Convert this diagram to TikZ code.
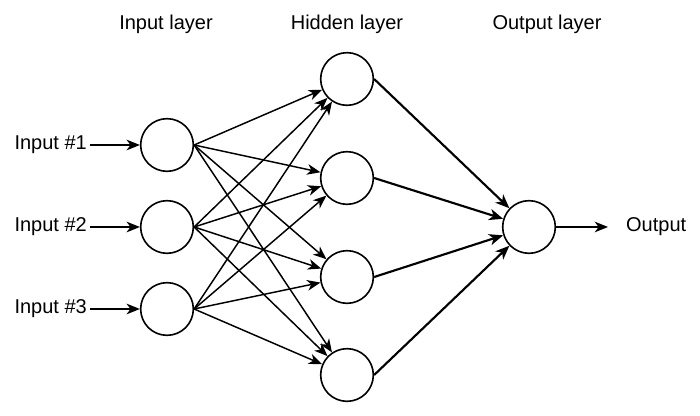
\documentclass[tikz,border=0pt]{standalone}
\usepackage{fontspec}
\setmainfont{Liberation Sans}
\usetikzlibrary{arrows.meta}

\tikzset{every picture/.style={line width=0.75pt}}
\tikzset{
  neuron/.style={draw, circle, minimum size=39.5pt, inner sep=0pt, line width=1.2pt},
  lbl/.style={font=\fontsize{15}{18}\selectfont, inner sep=2pt},
  syn/.style={line width=1.1pt, -{Stealth[length=10pt, width=8pt, inset=3pt]}},
  synout/.style={line width=1.6pt, -{Stealth[length=10.5pt, width=8.5pt, inset=3pt]}}
}

\begin{document}
\begin{tikzpicture}[x=0.75pt,y=0.75pt,yscale=-1,xscale=1]
\useasboundingbox (0,0) rectangle (700,416);

% Headers
\node[lbl] (hin) at (166,24) {Input layer};
\node[lbl] (hhid) at (347,24) {Hidden layer};
\node[lbl] (hout) at (547,24) {Output layer};

% Input layer
\node[neuron] (i1) at (167,145) {};
\node[neuron] (i2) at (167,227) {};
\node[neuron] (i3) at (167,309) {};

% Hidden layer
\node[neuron] (h1) at (347,79) {};
\node[neuron] (h2) at (347,178) {};
\node[neuron] (h3) at (347,277) {};
\node[neuron] (h4) at (347,375) {};

% Output layer
\node[neuron] (o) at (529,227) {};

% Input labels
\node[lbl, anchor=east] (x1) at (90,145) {Input \#1};
\node[lbl, anchor=east] (x2) at (90,227) {Input \#2};
\node[lbl, anchor=east] (x3) at (90,309) {Input \#3};
\node[lbl, anchor=west] (y) at (623,227) {Output};
\coordinate (yend) at (608,227);

\draw[syn] (x1) -- (i1);
\draw[syn] (x2) -- (i2);
\draw[syn] (x3) -- (i3);

% Connections
\foreach \i in {1,2,3}
  \foreach \h in {1,2,3,4}
    \draw[syn] (i\i.east) -- (h\h);
\foreach \h in {1,2,3,4}
  \draw[synout] (h\h.east) -- (o);

\draw[syn] (o) -- (yend);

\end{tikzpicture}
\end{document}
